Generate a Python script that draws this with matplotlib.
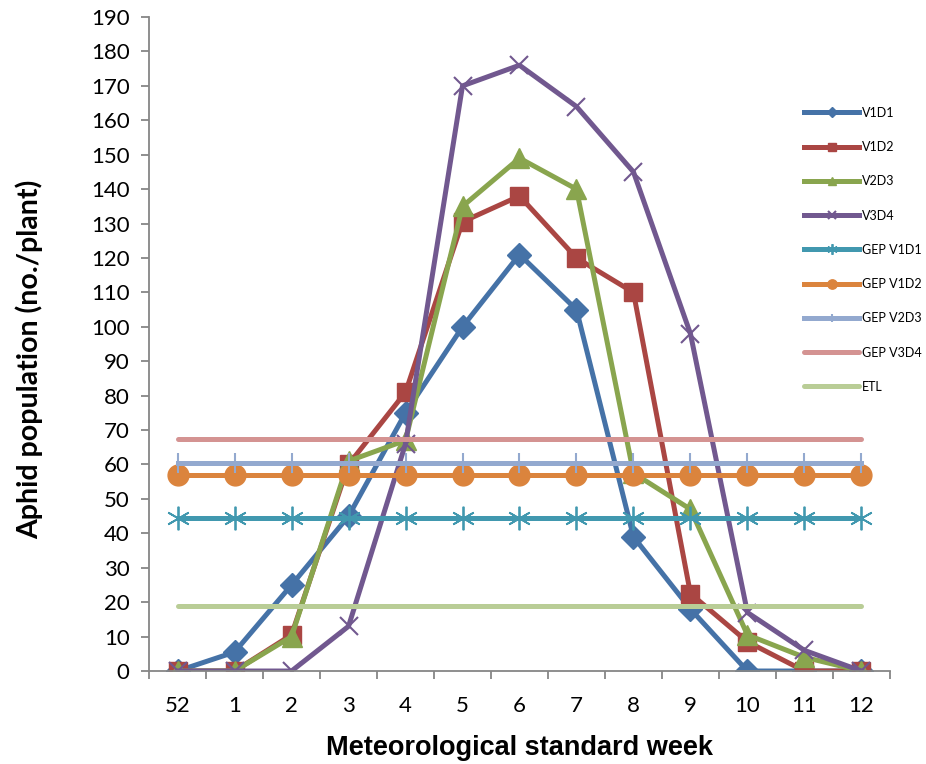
import matplotlib.pyplot as plt
import numpy as np

plt.rcParams['font.family'] = ['Lato', 'DejaVu Sans']

weeks = ['52', '1', '2', '3', '4', '5', '6', '7', '8', '9', '10', '11', '12']

v1d1 = [0, 5.5, 25, 45, 75, 100, 121, 105, 39, 18, 0, 0, 0]
v1d2 = [0, 0, 10.5, 60, 81, 130.5, 138, 120, 110, 22.5, 8.5, 0, 0]
v2d3 = [0, 0, 10, 61, 67, 135, 149, 140, 57.5, 47, 10.5, 4, 0]
v3d4 = [0, 0, 0, 13, 66, 170, 176, 164, 145, 98, 17, 6, 0]

gep_v1d1 = 44.5
gep_v1d2 = 57
gep_v2d3 = 60.5
gep_v3d4 = 67.5
etl = 19

x = np.arange(len(weeks))
n = len(weeks)

fig = plt.figure(figsize=(9.26, 7.64), dpi=100)
ax = fig.add_axes([0.161, 0.1217, 0.8, 0.856])

lw = 3.6
ax.plot(x, v1d1, color='#4572A7', lw=lw, marker='D', ms=12, label='V1D1')
ax.plot(x, v1d2, color='#AA4643', lw=lw, marker='s', ms=13, label='V1D2')
ax.plot(x, v2d3, color='#89A54E', lw=lw, marker='^', ms=14, label='V2D3')
ax.plot(x, v3d4, color='#71588F', lw=lw, marker='x', ms=13, mew=1.5, label='V3D4')
ax.plot(x, [gep_v1d1] * n, color='#4198AF', lw=lw, marker=(6, 2, 0), ms=17, mew=1.3,
        label='GEP V1D1')
ax.plot(x, [gep_v1d2] * n, color='#DB843D', lw=lw, marker='o', ms=15, label='GEP V1D2')
ax.plot(x, [gep_v2d3] * n, color='#93A9CF', lw=lw, marker='|', ms=14, mew=1.5,
        label='GEP V2D3')
ax.plot(x, [gep_v3d4] * n, color='#D49392', lw=lw, solid_capstyle='round', label='GEP V3D4')
ax.plot(x, [etl] * n, color='#B9CD96', lw=lw, solid_capstyle='round', label='ETL')

ax.set_xlim(-0.5, n - 0.5)
ax.set_ylim(0, 190)
ax.set_yticks(np.arange(0, 191, 10))
ax.set_xticks(x)
ax.set_xticklabels(weeks)
ax.set_xticks(np.arange(-0.5, n, 1), minor=True)
ax.tick_params(axis='x', which='major', length=0, labelsize=16, pad=18)
ax.tick_params(axis='x', which='minor', length=6, color='#868686', width=1.3)
ax.tick_params(axis='y', length=6, color='#868686', width=1.3, labelsize=16, pad=8)

for s in ['top', 'right']:
    ax.spines[s].set_visible(False)
for s in ['left', 'bottom']:
    ax.spines[s].set_color('#868686')
    ax.spines[s].set_linewidth(1.3)

ax.set_xlabel('Meteorological standard week', family='Liberation Sans',
              fontweight='bold', fontsize=19.5, labelpad=14)
ax.set_ylabel('Aphid population (no./plant)', fontweight='bold', fontsize=20.5)
ax.yaxis.set_label_coords(-0.143, 0.477)

leg = ax.legend(loc='upper left', bbox_to_anchor=(0.869, 0.88), frameon=False,
                fontsize=9, handlelength=4.4, markerscale=0.45, labelspacing=1.78,
                handletextpad=0.2)

fig.savefig('out.png', dpi=100)
